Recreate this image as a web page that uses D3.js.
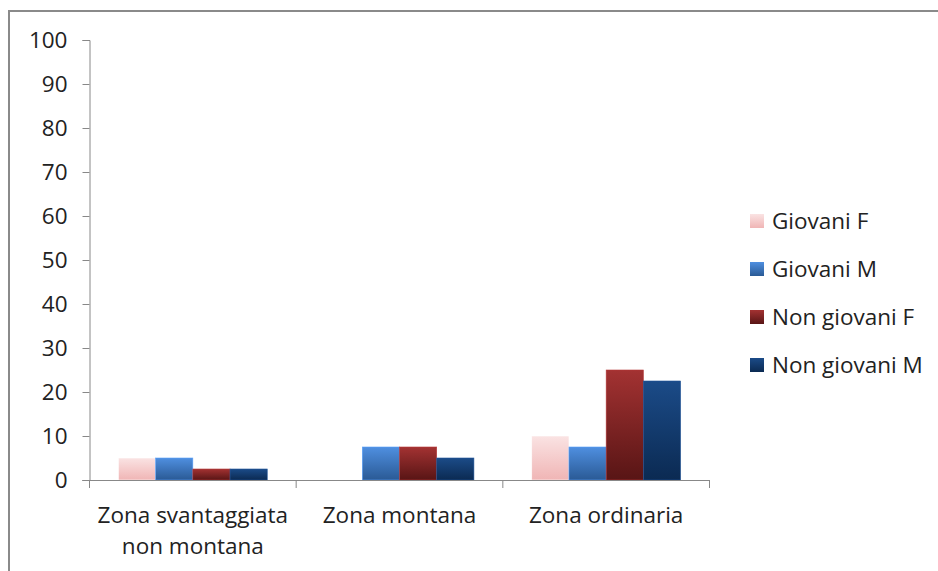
<!DOCTYPE html>
<html><head><meta charset="utf-8">
<script src="https://cdn.jsdelivr.net/npm/d3@7"></script>
<style>body{margin:0;background:#fff}svg{display:block;font-family:"Open Sans",sans-serif}</style>
</head><body><svg id="c" width="938" height="571"></svg>
<script>
const categories = [["Zona svantaggiata","non montana"],["Zona montana"],["Zona ordinaria"]];
const seriesNames = ["Giovani F","Giovani M","Non giovani F","Non giovani M"];
const giovaniF = [5, 0, 10];
const giovaniM = [5, 7.5, 7.5];
const nonGiovaniF = [2.5, 7.5, 25];
const nonGiovaniM = [2.5, 5, 22.5];
const yTicks = [0,10,20,30,40,50,60,70,80,90,100];
const seriesValues = [giovaniF, giovaniM, nonGiovaniF, nonGiovaniM];
const gradStops = [["#fae3e3","#f0b5b5"],["#4f8fe0","#2a5a95"],["#a33232","#581515"],["#1b4b88","#0b2a52"]];

(function(){
const FS = 22.5;
const svg = d3.select("#c");
const defs = svg.append("defs");
gradStops.forEach((s,i)=>{
  const g = defs.append("linearGradient").attr("id","g"+i).attr("x1",0).attr("y1",0).attr("x2",0).attr("y2",1);
  g.append("stop").attr("offset","0%").attr("stop-color",s[0]);
  g.append("stop").attr("offset","100%").attr("stop-color",s[1]);
});
// frame
svg.append("rect").attr("x",9).attr("y",11).attr("width",940).attr("height",580)
  .attr("fill","none").attr("stroke","#8a8a8a").attr("stroke-width",2);

const pLeft=89.5, pRight=709.5, pTop=40, pBottom=480;
const x0 = d3.scaleBand().domain(d3.range(categories.length)).range([pLeft,pRight]).paddingInner(0.28).paddingOuter(0.14);
const x1 = d3.scaleBand().domain(d3.range(seriesNames.length)).range([0,x0.bandwidth()]);
const y = d3.scaleLinear().domain([0,100]).range([pBottom,pTop]);

// bars
seriesValues.forEach((vals,si)=>{
  svg.append("g").selectAll("rect").data(vals).join("rect")
    .attr("x",(d,i)=>x0(i)+x1(si))
    .attr("y",d=>y(d))
    .attr("width",x1.bandwidth())
    .attr("height",d=>pBottom-y(d))
    .attr("fill","url(#g"+si+")")
    .attr("stroke",d=>d>0?d3.color(gradStops[si][0]).brighter(0.3):"none").attr("stroke-width",0.6);
});

// y axis
const ya = svg.append("g").attr("transform",`translate(${pLeft},0)`)
  .call(d3.axisLeft(y).tickValues(yTicks).tickSize(7).tickPadding(15));
ya.select(".domain").attr("stroke","#888");
ya.selectAll(".tick line").attr("stroke","#888");
ya.selectAll("text").attr("font-size",FS).attr("fill","#222").attr("font-family","Open Sans");

// x axis
const xa = svg.append("g").attr("transform",`translate(0,${pBottom})`);
xa.append("line").attr("x1",pLeft-7).attr("x2",pRight).attr("y1",0.5).attr("y2",0.5).attr("stroke","#888");
const step = (pRight-pLeft)/categories.length;
d3.range(categories.length+1).forEach(i=>{
  xa.append("line").attr("x1",pLeft+i*step).attr("x2",pLeft+i*step).attr("y1",0).attr("y2",8).attr("stroke","#888");
});
categories.forEach((lines,i)=>{
  const t = xa.append("text").attr("text-anchor","middle").attr("font-size",FS).attr("fill","#222")
    .attr("x",pLeft+(i+0.5)*step).attr("y",43);
  lines.forEach((l,j)=>t.append("tspan").attr("x",pLeft+(i+0.5)*step).attr("dy",j?31:0).text(l));
});

// legend
const lg = svg.append("g").attr("transform","translate(750,214)");
seriesNames.forEach((n,i)=>{
  const r = lg.append("g").attr("transform",`translate(0,${i*48})`);
  r.append("rect").attr("width",14).attr("height",14).attr("fill","url(#g"+i+")");
  r.append("text").attr("x",22).attr("y",15).attr("font-size",FS).attr("fill","#222").text(n);
});
})();
</script></body></html>
